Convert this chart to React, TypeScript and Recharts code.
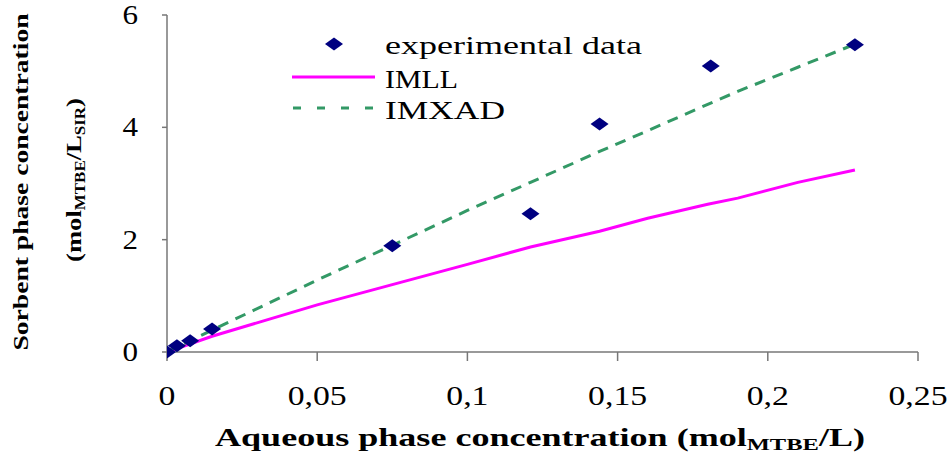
import { ComposedChart, Line, Scatter, XAxis, YAxis } from 'recharts'

// aqueous concentration (mol MTBE / L) and sorbent concentration (mol MTBE / L SIR)
const expX = [0, 0.0033, 0.0077, 0.015, 0.075, 0.121, 0.144, 0.181, 0.229]
const expY = [0, 0.11, 0.2, 0.41, 1.89, 2.46, 4.06, 5.09, 5.47]

const modelX = [0, 0.015, 0.05, 0.075, 0.1, 0.121, 0.144, 0.16, 0.18, 0.19, 0.21, 0.229]
const imll = [0, 0.28, 0.84, 1.2, 1.56, 1.87, 2.15, 2.38, 2.63, 2.74, 3.02, 3.24]
const imxad = [0, 0.39, 1.28, 1.9, 2.52, 3.02, 3.57, 3.94, 4.41, 4.64, 5.07, 5.48]

const xTicks = [0, 0.05, 0.1, 0.15, 0.2, 0.25]
const yTicks = [0, 2, 4, 6]

const expData = expX.map((x, i) => ({ x, y: expY[i] }))
const imllData = modelX.map((x, i) => ({ x, y: imll[i] }))
const imxadData = modelX.map((x, i) => ({ x, y: imxad[i] }))

const serif = '"Liberation Serif"'
const axisColor = '#777777'
const navy = '#000080'
const magenta = '#ff00ff'
const green = '#339966'

const fmt = (v: number) => `${v}`.replace('.', ',')

function Diamond(props: any) {
  const { cx, cy } = props
  if (cx == null || cy == null) return null
  return (
    <polygon
      points={`${cx - 9},${cy} ${cx},${cy - 6.5} ${cx + 9},${cy} ${cx},${cy + 6.5}`}
      fill={navy}
    />
  )
}

// the original's text is stretched sideways, so ticks get a horizontal scale
function XTick(props: any) {
  const { x, y, payload } = props
  return (
    <text
      transform={`translate(${x},${y + 40}) scale(1.25,1)`}
      textAnchor='middle'
      style={{ fontFamily: serif, fontSize: 27 }}
      fill='#000'
    >
      {fmt(payload.value)}
    </text>
  )
}

function YTick(props: any) {
  const { x, y, payload } = props
  return (
    <text
      transform={`translate(${x},${y + 9}) scale(1.15,1)`}
      textAnchor='end'
      style={{ fontFamily: serif, fontSize: 27 }}
      fill='#000'
    >
      {payload.value}
    </text>
  )
}

const txt = (size: number, bold = false) => ({
  fontFamily: serif,
  fontSize: size,
  fontWeight: bold ? 700 : 400,
})

export default function App() {
  return (
    <div style={{ position: 'absolute', left: 0, top: 0, width: 951, height: 453, background: '#fff' }}>
      <ComposedChart
        width={951}
        height={453}
        margin={{ top: 15, right: 33, left: 90, bottom: 41 }}
      >
        <XAxis
          type='number'
          dataKey='x'
          domain={[0, 0.25]}
          ticks={xTicks}
          height={60}
          stroke={axisColor}
          strokeWidth={1.5}
          tickSize={9}
          tickMargin={4}
          tick={<XTick />}
          allowDataOverflow
        />
        <YAxis
          type='number'
          dataKey='y'
          domain={[0, 6]}
          ticks={yTicks}
          width={77}
          stroke={axisColor}
          strokeWidth={1.5}
          tickSize={5}
          tickMargin={24}
          tick={<YTick />}
        />
        <Line
          data={imllData}
          dataKey='y'
          type='linear'
          stroke={magenta}
          strokeWidth={3}
          dot={false}
          isAnimationActive={false}
        />
        <Line
          data={imxadData}
          dataKey='y'
          type='linear'
          stroke={green}
          strokeWidth={3}
          strokeDasharray='11 8'
          dot={false}
          isAnimationActive={false}
        />
        <Scatter data={expData} dataKey='y' shape={<Diamond />} isAnimationActive={false} />
      </ComposedChart>

      <svg
        width={951}
        height={453}
        style={{ position: 'absolute', left: 0, top: 0, pointerEvents: 'none' }}
      >
        {/* legend */}
        <polygon points='325,44 334,37.5 343,44 334,50.5' fill={navy} />
        <text x={385} y={54} style={txt(26)} textLength={257} lengthAdjust='spacingAndGlyphs'>
          experimental data
        </text>
        <line x1={292} y1={77} x2={375} y2={77} stroke={magenta} strokeWidth={3} />
        <text x={385} y={88} style={txt(26)} textLength={73} lengthAdjust='spacingAndGlyphs'>
          IMLL
        </text>
        <line x1={293} y1={108} x2={375} y2={108} stroke={green} strokeWidth={3} strokeDasharray='8 16' />
        <text x={385} y={119} style={txt(26)} textLength={120} lengthAdjust='spacingAndGlyphs'>
          IMXAD
        </text>

        {/* x axis title */}
        <text
          x={215}
          y={446}
          style={txt(25, true)}
          textLength={650}
          lengthAdjust='spacingAndGlyphs'
        >
          Aqueous phase concentration (mol
          <tspan fontSize={17} dy={4}>MTBE</tspan>
          <tspan dy={-4}>/L)</tspan>
        </text>

        {/* y axis title */}
        <text
          transform='translate(28,182) rotate(-90)'
          style={txt(22, true)}
          textAnchor='middle'
          textLength={337}
          lengthAdjust='spacingAndGlyphs'
        >
          Sorbent phase concentration
        </text>
        <text
          transform='translate(81,180) rotate(-90)'
          style={txt(22, true)}
          textAnchor='middle'
          textLength={164}
          lengthAdjust='spacingAndGlyphs'
        >
          (mol
          <tspan fontSize={14} dy={4}>MTBE</tspan>
          <tspan dy={-4}>/L</tspan>
          <tspan fontSize={14} dy={4}>SIR</tspan>
          <tspan dy={-4}>)</tspan>
        </text>
      </svg>
    </div>
  )
}
